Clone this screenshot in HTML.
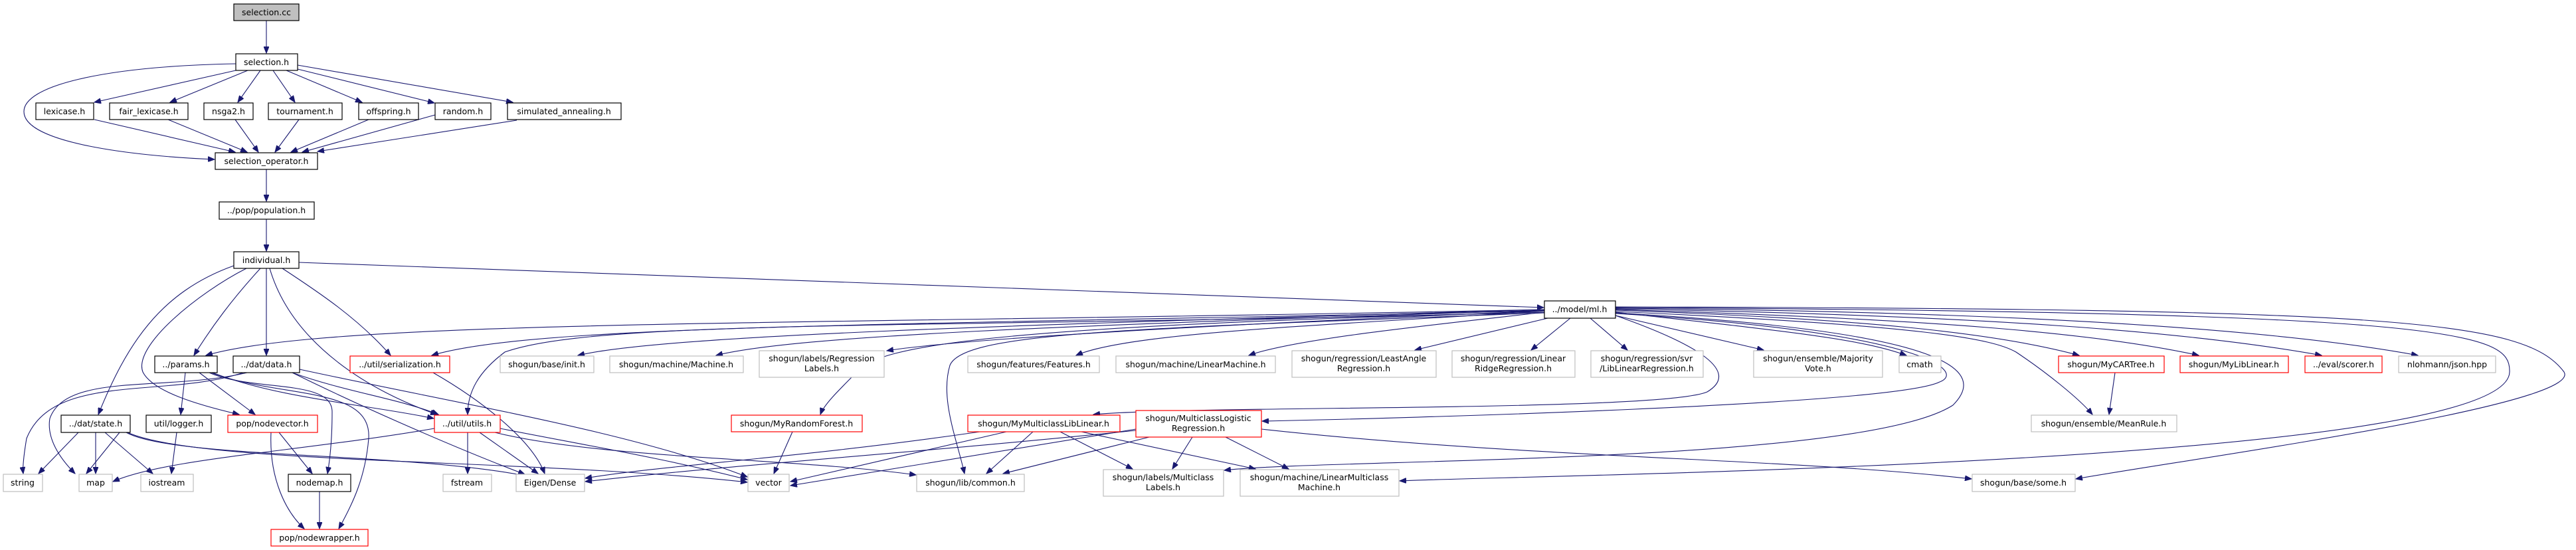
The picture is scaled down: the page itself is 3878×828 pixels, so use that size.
<!DOCTYPE html>
<html><head><meta charset="utf-8">
<style>
html,body{margin:0;padding:0;background:#fff;}
svg{display:block;}
text{font-family:"DejaVu Sans","Liberation Sans",sans-serif;font-size:12.5px;fill:#000;text-anchor:middle;}
.b{fill:#fff;stroke:#000;stroke-width:1.2;}
.g{fill:#fff;stroke:#bfbfbf;stroke-width:1.2;}
.r{fill:#fff;stroke:#ff0000;stroke-width:1.2;}
.f{fill:#bfbfbf;stroke:#000;stroke-width:1.2;}
path.e{fill:none;stroke:#191970;stroke-width:1.1;marker-end:url(#a);}
</style></head><body>
<svg width="3878" height="828" viewBox="0 0 3878 828" xmlns="http://www.w3.org/2000/svg">
<defs><marker id="a" markerUnits="userSpaceOnUse" markerWidth="11" markerHeight="8" refX="10" refY="4" orient="auto"><path d="M0,0 L10,4 L0,8 z" fill="#191970" stroke="#191970"/></marker></defs>

<!-- edges -->
<path class="e" d="M401,31 L401,80"/>
<path class="e" d="M355,96 C150,100 36,130 36,168 C36,215 200,235 323,240"/>
<path class="e" d="M355,106 L142,154"/>
<path class="e" d="M373,106 L256,154"/>
<path class="e" d="M392,106 L358,154"/>
<path class="e" d="M411,106 L444,154"/>
<path class="e" d="M431,106 L545,154"/>
<path class="e" d="M448,104 L654,155"/>
<path class="e" d="M448,98 L772,154"/>
<path class="e" d="M142,180 L354,229"/>
<path class="e" d="M253,180 L372,229"/>
<path class="e" d="M354,180 L389,229"/>
<path class="e" d="M450,180 L414,229"/>
<path class="e" d="M555,180 L438,229"/>
<path class="e" d="M655,173 L455,229"/>
<path class="e" d="M778,181 L478,228"/>
<path class="e" d="M401,255 L401,303"/>
<path class="e" d="M401,330 L401,378"/>
<path class="e" d="M450,395 L2324,463"/>
<path class="e" d="M392,404 C350,450 320,490 292,535"/>
<path class="e" d="M401,404 L401,535"/>
<path class="e" d="M425,404 C480,440 540,480 588,535"/>
<path class="e" d="M352,400 C240,440 190,520 148,624"/>
<path class="e" d="M371,404 C300,440 200,520 215,560 C230,590 300,610 360,624"/>
<path class="e" d="M406,404 C440,520 560,590 658,624"/>
<!-- ml.h fan -->
<path class="e" d="M2325,466 C1200,490 500,480 310,535"/>
<path class="e" d="M2325,468 C1300,490 800,490 650,535"/>
<path class="e" d="M2325,470 C1400,495 900,480 760,530 C720,560 704,590 704,624"/>
<path class="e" d="M2325,466 C1500,490 1000,505 870,535"/>
<path class="e" d="M2325,467 C1600,490 1200,505 1078,535"/>
<path class="e" d="M2325,468 C1800,490 1450,510 1335,528"/>
<path class="e" d="M2325,470 C1500,490 1320,520 1290,560 C1260,590 1240,610 1235,624"/>
<path class="e" d="M2325,471 C1700,495 1450,500 1430,550 C1415,600 1440,660 1452,713"/>
<path class="e" d="M2325,468 C2000,490 1700,500 1620,535"/>
<path class="e" d="M2325,470 C2150,490 1950,510 1880,535"/>
<path class="e" d="M2330,479 L2130,527"/>
<path class="e" d="M2364,479 L2305,527"/>
<path class="e" d="M2394,479 L2450,527"/>
<path class="e" d="M2432,475 L2655,527"/>
<path class="e" d="M2432,470 C2700,500 2800,510 2870,535"/>
<path class="e" d="M2432,467 C2800,480 3000,500 3130,535"/>
<path class="e" d="M2432,466 C2900,480 3150,500 3310,535"/>
<path class="e" d="M2432,465 C3000,475 3300,500 3495,535"/>
<path class="e" d="M2432,464 C3100,470 3450,500 3640,535"/>
<path class="e" d="M2432,469 C2900,490 3000,510 3035,530 C3080,560 3130,600 3150,624"/>
<path class="e" d="M2432,475 C2560,520 2620,560 2570,590 C2500,620 1800,610 1646,624"/>
<path class="e" d="M2432,472 C2900,500 2960,560 2920,575 C2850,610 2100,630 1900,634"/>
<path class="e" d="M2432,471 C2950,500 2990,560 2940,610 C2800,700 2000,690 1843,708"/>
<path class="e" d="M2432,463 C3700,470 3780,500 3778,560 C3775,700 2300,715 2107,724"/>
<path class="e" d="M2432,462 C3600,465 3800,480 3860,560 C3890,610 3300,690 3125,721"/>
<!-- lower edges -->
<path class="e" d="M180,651 L130,713"/>
<path class="e" d="M144,651 L144,713"/>
<path class="e" d="M158,651 L230,713"/>
<path class="e" d="M118,651 L58,713"/>
<path class="e" d="M190,651 C260,690 600,680 790,716"/>
<path class="e" d="M192,651 C300,700 800,690 1125,726"/>
<path class="e" d="M266,651 L258,713"/>
<path class="e" d="M279,561 L272,624"/>
<path class="e" d="M300,561 L384,624"/>
<path class="e" d="M315,561 C380,590 500,570 500,620 C500,660 497,690 493,713"/>
<path class="e" d="M318,561 C420,600 560,580 555,660 C550,720 530,760 510,796"/>
<path class="e" d="M320,561 C420,600 560,610 653,630"/>
<path class="e" d="M366,561 C250,600 80,560 40,660 C35,690 34,705 35,713"/>
<path class="e" d="M372,561 C250,590 100,560 75,630 C70,660 90,690 113,713"/>
<path class="e" d="M440,561 C520,590 600,600 660,624"/>
<path class="e" d="M440,561 C560,620 700,680 790,714"/>
<path class="e" d="M451,556 C700,610 950,650 1125,718"/>
<path class="e" d="M408,651 C405,720 430,770 458,796"/>
<path class="e" d="M420,651 L470,713"/>
<path class="e" d="M481,740 L481,796"/>
<path class="e" d="M654,645 C450,680 250,690 170,725"/>
<path class="e" d="M704,651 L704,713"/>
<path class="e" d="M722,651 L810,713"/>
<path class="e" d="M753,645 C880,670 1000,690 1125,722"/>
<path class="e" d="M745,651 C900,690 1200,690 1379,715"/>
<path class="e" d="M652,561 C720,600 800,660 820,713"/>
<path class="e" d="M1193,650 L1165,713"/>
<path class="e" d="M1475,650 C1200,690 1000,700 881,720"/>
<path class="e" d="M1710,648 C1400,680 1100,700 881,725"/>
<path class="e" d="M1515,650 L1190,725"/>
<path class="e" d="M1555,650 L1485,713"/>
<path class="e" d="M1596,650 L1705,706"/>
<path class="e" d="M1628,650 L1890,706"/>
<path class="e" d="M1710,646 L1190,731"/>
<path class="e" d="M1730,658 L1510,713"/>
<path class="e" d="M1795,658 L1765,706"/>
<path class="e" d="M1845,658 L1940,706"/>
<path class="e" d="M1899,646 C2300,690 2700,690 2968,721"/>
<path class="e" d="M3184,561 L3175,624"/>

<!-- nodes -->
<rect class="f" x="352" y="6" width="98" height="25"/><text x="401" y="23">selection.cc</text>
<rect class="b" x="355" y="81" width="93" height="25"/><text x="401" y="98">selection.h</text>
<rect class="b" x="54" y="155" width="87" height="25"/><text x="97" y="172">lexicase.h</text>
<rect class="b" x="165" y="155" width="118" height="25"/><text x="224" y="172">fair_lexicase.h</text>
<rect class="b" x="307" y="155" width="74" height="25"/><text x="344" y="172">nsga2.h</text>
<rect class="b" x="404" y="155" width="111" height="25"/><text x="459" y="172">tournament.h</text>
<rect class="b" x="540" y="155" width="90" height="25"/><text x="585" y="172">offspring.h</text>
<rect class="b" x="655" y="155" width="84" height="25"/><text x="697" y="172">random.h</text>
<rect class="b" x="764" y="155" width="171" height="25"/><text x="849" y="172">simulated_annealing.h</text>
<rect class="b" x="324" y="230" width="154" height="25"/><text x="401" y="247">selection_operator.h</text>
<rect class="b" x="330" y="304" width="143" height="26"/><text x="401" y="321">../pop/population.h</text>
<rect class="b" x="352" y="379" width="98" height="25"/><text x="401" y="396">individual.h</text>
<rect class="b" x="2325" y="453" width="107" height="26"/><text x="2378" y="470">../model/ml.h</text>

<rect class="b" x="233" y="536" width="94" height="25"/><text x="280" y="553">../params.h</text>
<rect class="b" x="351" y="536" width="100" height="25"/><text x="401" y="553">../dat/data.h</text>
<rect class="r" x="527" y="536" width="150" height="25"/><text x="602" y="553">../util/serialization.h</text>
<rect class="g" x="753" y="536" width="141" height="25"/><text x="823" y="553">shogun/base/init.h</text>
<rect class="g" x="918" y="536" width="201" height="25"/><text x="1018" y="553">shogun/machine/Machine.h</text>
<rect class="g" x="1143" y="528" width="188" height="40"/><text x="1237" y="544">shogun/labels/Regression</text><text x="1237" y="559">Labels.h</text>
<rect class="g" x="1457" y="536" width="198" height="25"/><text x="1556" y="553">shogun/features/Features.h</text>
<rect class="g" x="1680" y="536" width="240" height="25"/><text x="1800" y="553">shogun/machine/LinearMachine.h</text>
<rect class="g" x="1945" y="528" width="217" height="40"/><text x="2053" y="544">shogun/regression/LeastAngle</text><text x="2053" y="559">Regression.h</text>
<rect class="g" x="2186" y="528" width="185" height="40"/><text x="2278" y="544">shogun/regression/Linear</text><text x="2278" y="559">RidgeRegression.h</text>
<rect class="g" x="2395" y="528" width="169" height="40"/><text x="2479" y="544">shogun/regression/svr</text><text x="2479" y="559">/LibLinearRegression.h</text>
<rect class="g" x="2640" y="528" width="194" height="40"/><text x="2737" y="544">shogun/ensemble/Majority</text><text x="2737" y="559">Vote.h</text>
<rect class="g" x="2859" y="536" width="63" height="25"/><text x="2890" y="553">cmath</text>
<rect class="r" x="3099" y="536" width="159" height="25"/><text x="3178" y="553">shogun/MyCARTree.h</text>
<rect class="r" x="3282" y="536" width="163" height="25"/><text x="3363" y="553">shogun/MyLibLinear.h</text>
<rect class="r" x="3470" y="536" width="116" height="25"/><text x="3528" y="553">../eval/scorer.h</text>
<rect class="g" x="3611" y="536" width="146" height="25"/><text x="3684" y="553">nlohmann/json.hpp</text>

<rect class="b" x="92" y="625" width="104" height="26"/><text x="144" y="642">../dat/state.h</text>
<rect class="b" x="220" y="625" width="98" height="26"/><text x="269" y="642">util/logger.h</text>
<rect class="r" x="343" y="625" width="135" height="26"/><text x="410" y="642">pop/nodevector.h</text>
<rect class="r" x="654" y="625" width="99" height="26"/><text x="703" y="642">../util/utils.h</text>
<rect class="r" x="1101" y="625" width="197" height="25"/><text x="1199" y="642">shogun/MyRandomForest.h</text>
<rect class="r" x="1457" y="625" width="229" height="25"/><text x="1571" y="642">shogun/MyMulticlassLibLinear.h</text>
<rect class="r" x="1710" y="618" width="189" height="40"/><text x="1804" y="634">shogun/MulticlassLogistic</text><text x="1804" y="649">Regression.h</text>
<rect class="g" x="3058" y="625" width="219" height="25"/><text x="3167" y="642">shogun/ensemble/MeanRule.h</text>

<rect class="g" x="5" y="714" width="59" height="26"/><text x="34" y="731">string</text>
<rect class="g" x="119" y="714" width="50" height="26"/><text x="144" y="731">map</text>
<rect class="g" x="212" y="714" width="79" height="26"/><text x="251" y="731">iostream</text>
<rect class="b" x="434" y="714" width="94" height="26"/><text x="481" y="731">nodemap.h</text>
<rect class="g" x="667" y="714" width="73" height="26"/><text x="703" y="731">fstream</text>
<rect class="g" x="777" y="714" width="103" height="26"/><text x="828" y="731">Eigen/Dense</text>
<rect class="g" x="1126" y="714" width="62" height="26"/><text x="1157" y="731">vector</text>
<rect class="g" x="1380" y="714" width="162" height="26"/><text x="1461" y="731">shogun/lib/common.h</text>
<rect class="g" x="1661" y="707" width="181" height="40"/><text x="1751" y="723">shogun/labels/Multiclass</text><text x="1751" y="738">Labels.h</text>
<rect class="g" x="1867" y="707" width="239" height="40"/><text x="1986" y="723">shogun/machine/LinearMulticlass</text><text x="1986" y="738">Machine.h</text>
<rect class="g" x="2969" y="714" width="155" height="26"/><text x="3046" y="731">shogun/base/some.h</text>
<rect class="r" x="408" y="797" width="146" height="25"/><text x="481" y="814">pop/nodewrapper.h</text>
</svg>
</body></html>
